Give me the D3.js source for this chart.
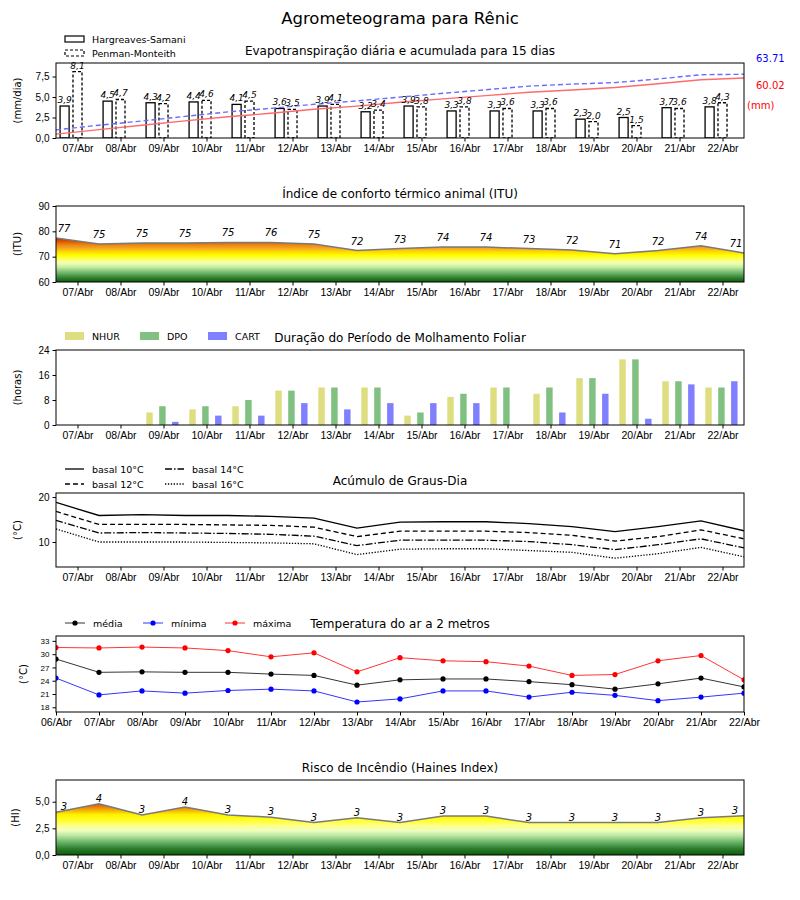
<!DOCTYPE html>
<html>
<head>
<meta charset="utf-8">
<script src="https://cdn.jsdelivr.net/npm/d3@7"></script>
<style>
  body { margin: 0; background: #fff; }
  svg { font-family: 'DejaVu Sans', sans-serif; }
</style>
</head>
<body>
<script>
// ---- dados ----
var dias = ['07/Abr', '08/Abr', '09/Abr', '10/Abr', '11/Abr', '12/Abr', '13/Abr', '14/Abr',
            '15/Abr', '16/Abr', '17/Abr', '18/Abr', '19/Abr', '20/Abr', '21/Abr', '22/Abr'];
var diasTemp = ['06/Abr', '07/Abr', '08/Abr', '09/Abr', '10/Abr', '11/Abr', '12/Abr', '13/Abr', '14/Abr',
                '15/Abr', '16/Abr', '17/Abr', '18/Abr', '19/Abr', '20/Abr', '21/Abr', '22/Abr'];

// evapotranspiracao (mm/dia)
var etoHS = [3.9, 4.5, 4.3, 4.4, 4.1, 3.6, 3.9, 3.2, 3.9, 3.3, 3.3, 3.3, 2.3, 2.5, 3.7, 3.8];
var etoPM = [8.1, 4.7, 4.2, 4.6, 4.5, 3.5, 4.1, 3.4, 3.8, 3.8, 3.6, 3.6, 2.0, 1.5, 3.6, 4.3];
// acumulado (mm)
var acumHS = [3.9, 8.4, 12.7, 17.1, 21.2, 24.8, 28.7, 31.9, 35.8, 39.1, 42.4, 45.7, 48.0, 50.5, 54.2, 58.3, 60.02];
var acumPM = [8.1, 12.8, 17.0, 21.6, 26.1, 29.6, 33.7, 37.1, 40.9, 44.7, 48.3, 51.9, 53.9, 55.4, 59.0, 63.3, 63.71];

// ITU
var itu = [77.4, 75.0, 75.4, 75.4, 75.6, 75.6, 75.0, 72.4, 73.2, 73.8, 73.8, 73.2, 72.6, 71.2, 72.4, 74.3, 71.4];
var ituRotulo = [77, 75, 75, 75, 75, 76, 75, 72, 73, 74, 74, 73, 72, 71, 72, 74, 71];

// molhamento foliar (horas)
var nhur = [0, 0, 4, 5, 6, 11, 12, 12, 3, 9, 12, 10, 15, 21, 14, 12];
var dpo  = [0, 0, 6, 6, 8, 11, 12, 12, 4, 10, 12, 12, 15, 21, 14, 12];
var cart = [0, 0, 1, 3, 3, 7, 5, 7, 7, 7, 0, 4, 10, 2, 13, 14];

// graus-dia
var gd10 = [18.8, 15.9, 16.1, 15.9, 15.9, 15.7, 15.3, 13.1, 14.4, 14.5, 14.5, 14.1, 13.4, 12.3, 13.4, 14.7, 12.5];
var gd12 = [16.8, 13.9, 13.9, 13.9, 13.8, 13.7, 13.3, 11.2, 12.4, 12.4, 12.4, 12.1, 11.5, 10.2, 11.2, 12.7, 10.7];
var gd14 = [14.8, 12.0, 12.1, 12.0, 11.9, 11.7, 11.3, 9.2, 10.4, 10.4, 10.4, 10.1, 9.4, 8.3, 9.4, 10.7, 8.7];
var gd16 = [12.9, 10.0, 10.0, 10.0, 9.9, 9.8, 9.6, 7.2, 8.4, 8.5, 8.5, 8.1, 7.7, 6.4, 7.4, 8.8, 6.7];

// temperatura (C)
var tMed = [28.9, 25.9, 26.0, 25.9, 25.9, 25.5, 25.2, 23.0, 24.2, 24.4, 24.4, 23.8, 23.1, 22.1, 23.3, 24.6, 22.6];
var tMin = [24.6, 20.8, 21.7, 21.2, 21.8, 22.1, 21.7, 19.2, 19.9, 21.7, 21.7, 20.3, 21.4, 20.7, 19.5, 20.3, 21.2];
var tMax = [31.5, 31.4, 31.6, 31.4, 30.8, 29.4, 30.3, 26.0, 29.2, 28.5, 28.3, 27.3, 25.2, 25.4, 28.5, 29.7, 24.2];

// Haines
var haines = [4.0, 4.8, 3.76, 4.5, 3.76, 3.54, 3.04, 3.5, 3.04, 3.66, 3.66, 3.04, 3.04, 3.04, 3.04, 3.5, 3.69];
var hainesRotulo = [3, 4, 3, 4, 3, 3, 3, 3, 3, 3, 3, 3, 3, 3, 3, 3, 3];

// ---- layout ----
var W = 800, H = 900;
var X0 = 56, X1 = 744;

var svg = d3.select('body').append('svg')
  .attr('width', W)
  .attr('height', H);

var defs = svg.append('defs');

var x = d3.scaleLinear().domain([-0.5, 15.5]).range([X0, X1]);
var meio = d3.range(17).map(function(k) { return k - 0.5; });

function virg(v, n) { return v.toFixed(n).replace('.', ','); }

svg.append('text')
  .attr('x', 400).attr('y', 24)
  .attr('text-anchor', 'middle')
  .style('font-size', '16.5px')
  .text('Agrometeograma para Rênic');

function painel(id, top, h, yDomain, yTicks, yFmt, ylabel, titulo, o) {
  o = o || {};
  var y = d3.scaleLinear().domain(yDomain).range([top + h, top]);
  var g = svg.append('g');

  defs.append('clipPath').attr('id', 'clip' + id)
    .append('rect').attr('x', X0).attr('y', top).attr('width', X1 - X0).attr('height', h);

  var plot = g.append('g').attr('clip-path', 'url(#clip' + id + ')');

  var xTicks = o.xTicks || d3.range(16);
  var xLabels = o.xLabels || dias;
  var ax = g.append('g')
    .attr('transform', 'translate(0,' + (top + h) + ')')
    .call(d3.axisBottom(x).tickValues(xTicks)
      .tickFormat(function(d, i) { return xLabels[i]; })
      .tickSize(3.5).tickPadding(3.5).tickSizeOuter(0));
  ax.selectAll('text').style('font-size', '10.5px').attr('fill', '#000');

  var ay = g.append('g')
    .attr('transform', 'translate(' + X0 + ',0)')
    .call(d3.axisLeft(y).tickValues(yTicks).tickFormat(yFmt)
      .tickSize(3.5).tickPadding(3).tickSizeOuter(0));
  ay.selectAll('text').style('font-size', (o.yFont || 10) + 'px').attr('fill', '#000');
  g.selectAll('.domain').remove();
  g.selectAll('.tick line').attr('stroke', '#000');

  g.append('text')
    .attr('transform', 'translate(' + (o.ylabelX || 21) + ',' + (top + h / 2) + ') rotate(-90)')
    .attr('text-anchor', 'middle')
    .style('font-size', '10px')
    .text(ylabel);

  g.append('text')
    .attr('x', 400).attr('y', top - 8)
    .attr('text-anchor', 'middle')
    .style('font-size', '12px')
    .text(titulo);

  return { g: g, plot: plot, y: y, top: top, h: h };
}

function moldura(p) {
  p.g.append('rect')
    .attr('x', X0).attr('y', p.top)
    .attr('width', X1 - X0).attr('height', p.h)
    .attr('fill', 'none').attr('stroke', '#000').attr('stroke-width', 1);
}

function gradiente(id, y, stops, v0, v1) {
  var lg = defs.append('linearGradient').attr('id', id)
    .attr('gradientUnits', 'userSpaceOnUse')
    .attr('x1', 0).attr('x2', 0)
    .attr('y1', y(v0)).attr('y2', y(v1));
  stops.forEach(function(s) {
    lg.append('stop').attr('offset', (s[0] - v0) / (v1 - v0)).attr('stop-color', s[1]);
  });
}

// ---------- 1. evapotranspiracao ----------
var p1 = painel(1, 63, 75, [0, 9.15], [0, 2.5, 5, 7.5], function(d) { return virg(d, 1); },
  '(mm/dia)', 'Evapotranspiração diária e acumulada para 15 dias');
var yAc = d3.scaleLinear().domain([0, 75]).range([138, 63]);
var bw = 0.21;

p1.plot.selectAll('.hs').data(etoHS).enter().append('rect')
  .attr('x', function(d, i) { return x(i - 0.3 - bw / 2); })
  .attr('y', function(d) { return p1.y(d); })
  .attr('width', x(bw) - x(0))
  .attr('height', function(d) { return p1.y(0) - p1.y(d); })
  .attr('fill', '#fff').attr('stroke', '#000').attr('stroke-width', 1.3);

p1.plot.selectAll('.pm').data(etoPM).enter().append('rect')
  .attr('x', function(d, i) { return x(i - bw / 2); })
  .attr('y', function(d) { return p1.y(d); })
  .attr('width', x(bw) - x(0))
  .attr('height', function(d) { return p1.y(0) - p1.y(d); })
  .attr('fill', '#fff').attr('stroke', '#000').attr('stroke-width', 1.3)
  .attr('stroke-dasharray', '3,2');

p1.g.selectAll('.lhs').data(etoHS).enter().append('text')
  .attr('x', function(d, i) { return x(i - 0.3); })
  .attr('y', function(d) { return p1.y(d) - 3; })
  .attr('text-anchor', 'middle')
  .style('font-size', '9px').style('font-style', 'italic')
  .text(function(d) { return virg(d, 1); });

p1.g.selectAll('.lpm').data(etoPM).enter().append('text')
  .attr('x', function(d, i) { return x(i); })
  .attr('y', function(d) { return p1.y(d) - 3; })
  .attr('text-anchor', 'middle')
  .style('font-size', '9px').style('font-style', 'italic')
  .text(function(d) { return virg(d, 1); });

var linhaAc = d3.line().x(function(d, i) { return x(meio[i]); }).y(function(d) { return yAc(d); });
p1.plot.append('path').datum(acumHS).attr('d', linhaAc)
  .attr('fill', 'none').attr('stroke', '#ff6a6a').attr('stroke-width', 1.4);
p1.plot.append('path').datum(acumPM).attr('d', linhaAc)
  .attr('fill', 'none').attr('stroke', '#6a6aff').attr('stroke-width', 1.4)
  .attr('stroke-dasharray', '5,3');
moldura(p1);

p1.g.append('text').attr('x', 756).attr('y', 62).style('font-size', '10px')
  .attr('fill', '#0000ff').text(acumPM[16].toFixed(2));
p1.g.append('text').attr('x', 756).attr('y', 89).style('font-size', '10px')
  .attr('fill', '#ff0000').text(acumHS[16].toFixed(2));
p1.g.append('text').attr('x', 747).attr('y', 109).style('font-size', '10px')
  .attr('fill', '#ff0000').text('(mm)');

// legenda
p1.g.append('rect').attr('x', 65).attr('y', 36).attr('width', 19).attr('height', 6)
  .attr('fill', '#fff').attr('stroke', '#000').attr('stroke-width', 1.2);
p1.g.append('rect').attr('x', 65).attr('y', 50).attr('width', 19).attr('height', 6)
  .attr('fill', '#fff').attr('stroke', '#000').attr('stroke-width', 1.2).attr('stroke-dasharray', '3,2');
p1.g.append('text').attr('x', 92).attr('y', 42.5).style('font-size', '9.5px').text('Hargreaves-Samani');
p1.g.append('text').attr('x', 92).attr('y', 56.5).style('font-size', '9.5px').text('Penman-Monteith');

// ---------- 2. ITU ----------
var p2 = painel(2, 206, 76, [60, 90], [60, 70, 80, 90], d3.format('d'),
  '(ITU)', 'Índice de conforto térmico animal (ITU)');
gradiente('gradITU', p2.y, [
  [60, '#0a5c0a'], [61.5, '#2e7d2e'], [63, '#5aa55a'], [64.5, '#8fcc80'], [66, '#c8f0a8'],
  [67.5, '#f0ffb0'], [69, '#ffff60'], [70.5, '#ffff00'], [72, '#ffd800'], [73.3, '#f5a623'],
  [74.5, '#ee8a10'], [75.5, '#e06a00'], [76.5, '#d84000'], [77.5, '#cc0000']
], 60, 78);
p2.plot.append('path').datum(itu)
  .attr('d', d3.area().x(function(d, i) { return x(meio[i]); })
    .y0(p2.y(60)).y1(function(d) { return p2.y(d); }))
  .attr('fill', 'url(#gradITU)');
p2.plot.append('path').datum(itu)
  .attr('d', d3.line().x(function(d, i) { return x(meio[i]); }).y(function(d) { return p2.y(d); }))
  .attr('fill', 'none').attr('stroke', '#7a7a7a').attr('stroke-width', 1.5);
p2.g.selectAll('.litu').data(ituRotulo).enter().append('text')
  .attr('x', function(d, i) { return Math.max(64, Math.min(736, x(meio[i]))); })
  .attr('y', function(d, i) { return p2.y(itu[i]) - 6; })
  .attr('text-anchor', 'middle')
  .style('font-size', '10px').style('font-style', 'italic')
  .text(function(d) { return d; });
moldura(p2);

// ---------- 3. molhamento foliar ----------
var p3 = painel(3, 350, 75, [0, 24], [0, 8, 16, 24], d3.format('d'),
  '(horas)', 'Duração do Período de Molhamento Foliar');
var series3 = [
  { nome: 'NHUR', v: nhur, cor: '#dede80', off: -0.4 },
  { nome: 'DPO', v: dpo, cor: '#80c080', off: -0.1 },
  { nome: 'CART', v: cart, cor: '#8080ff', off: 0.2 }
];
series3.forEach(function(s, j) {
  p3.plot.selectAll('.b' + j).data(s.v).enter().append('rect')
    .attr('x', function(d, i) { return x(i + s.off); })
    .attr('y', function(d) { return p3.y(d); })
    .attr('width', x(0.15) - x(0))
    .attr('height', function(d) { return p3.y(0) - p3.y(d); })
    .attr('fill', s.cor);
  var lx = [65, 140, 208][j];
  p3.g.append('rect').attr('x', lx).attr('y', 332).attr('width', 19).attr('height', 8).attr('fill', s.cor);
  p3.g.append('text').attr('x', lx + 27).attr('y', 340).style('font-size', '9.5px').text(s.nome);
});
moldura(p3);

// ---------- 4. graus-dia ----------
var p4 = painel(4, 493, 74, [4.44, 20.9], [10, 20], d3.format('d'),
  '(°C)', 'Acúmulo de Graus-Dia');
var series4 = [
  { nome: 'basal 10°C', v: gd10, dash: null, lx: 65, ly: 469 },
  { nome: 'basal 12°C', v: gd12, dash: '5,3', lx: 65, ly: 484 },
  { nome: 'basal 14°C', v: gd14, dash: '7,2,1.5,2', lx: 165, ly: 469 },
  { nome: 'basal 16°C', v: gd16, dash: '1.3,1.6', lx: 165, ly: 484 }
];
series4.forEach(function(s) {
  p4.plot.append('path').datum(s.v)
    .attr('d', d3.line().x(function(d, i) { return x(meio[i]); }).y(function(d) { return p4.y(d); }))
    .attr('fill', 'none').attr('stroke', '#000').attr('stroke-width', 1.3)
    .attr('stroke-dasharray', s.dash);
  p4.g.append('line').attr('x1', s.lx).attr('x2', s.lx + 19).attr('y1', s.ly).attr('y2', s.ly)
    .attr('stroke', '#000').attr('stroke-width', 1.3).attr('stroke-dasharray', s.dash);
  p4.g.append('text').attr('x', s.lx + 27).attr('y', s.ly + 3.5).style('font-size', '9.5px').text(s.nome);
});
moldura(p4);

// ---------- 5. temperatura ----------
var p5 = painel(5, 636, 76, [16.94, 34.1], [18, 21, 24, 27, 30, 33], d3.format('d'),
  '(°C)', 'Temperatura do ar a 2 metros',
  { xTicks: meio, xLabels: diasTemp, yFont: 8, ylabelX: 27 });
var series5 = [
  { nome: 'média', v: tMed, cor: '#000', lx: 65 },
  { nome: 'mínima', v: tMin, cor: '#0000ff', lx: 143 },
  { nome: 'máxima', v: tMax, cor: '#ff0000', lx: 225 }
];
series5.forEach(function(s) {
  p5.plot.append('path').datum(s.v)
    .attr('d', d3.line().x(function(d, i) { return x(meio[i]); }).y(function(d) { return p5.y(d); }))
    .attr('fill', 'none').attr('stroke', s.cor).attr('stroke-width', 0.8);
  p5.plot.selectAll(null).data(s.v).enter().append('circle')
    .attr('cx', function(d, i) { return x(meio[i]); })
    .attr('cy', function(d) { return p5.y(d); })
    .attr('r', 2.6).attr('fill', s.cor);
  p5.g.append('line').attr('x1', s.lx).attr('x2', s.lx + 20).attr('y1', 623).attr('y2', 623)
    .attr('stroke', s.cor).attr('stroke-width', 0.8);
  p5.g.append('circle').attr('cx', s.lx + 10).attr('cy', 623).attr('r', 2.6).attr('fill', s.cor);
  p5.g.append('text').attr('x', s.lx + 28).attr('y', 626.5).style('font-size', '9.5px').text(s.nome);
});
moldura(p5);

// ---------- 6. Haines ----------
var p6 = painel(6, 780, 75, [0, 7.04], [0, 2.5, 5], function(d) { return virg(d, 1); },
  '(HI)', 'Risco de Incêndio (Haines Index)', { ylabelX: 19 });
gradiente('gradHI', p6.y, [
  [0, '#0a5c0a'], [0.6, '#2e7d2e'], [1.2, '#6ab36a'], [1.8, '#b8e6a0'], [2.3, '#f0ffc0'],
  [2.8, '#ffff80'], [3.3, '#ffff20'], [3.8, '#fff000'], [4.2, '#f5b000'], [4.6, '#e87010'],
  [5.0, '#d04000']
], 0, 5);
p6.plot.append('path').datum(haines)
  .attr('d', d3.area().x(function(d, i) { return x(meio[i]); })
    .y0(p6.y(0)).y1(function(d) { return p6.y(d); }))
  .attr('fill', 'url(#gradHI)');
p6.plot.append('path').datum(haines)
  .attr('d', d3.line().x(function(d, i) { return x(meio[i]); }).y(function(d) { return p6.y(d); }))
  .attr('fill', 'none').attr('stroke', '#7a7a7a').attr('stroke-width', 1.5);
p6.g.selectAll('.lhi').data(hainesRotulo).enter().append('text')
  .attr('x', function(d, i) { return Math.max(64, Math.min(735, x(meio[i]))); })
  .attr('y', function(d, i) { return p6.y(haines[i]) - 2; })
  .attr('text-anchor', 'middle')
  .style('font-size', '10px').style('font-style', 'italic')
  .text(function(d) { return d; });
moldura(p6);
</script>
</body>
</html>
